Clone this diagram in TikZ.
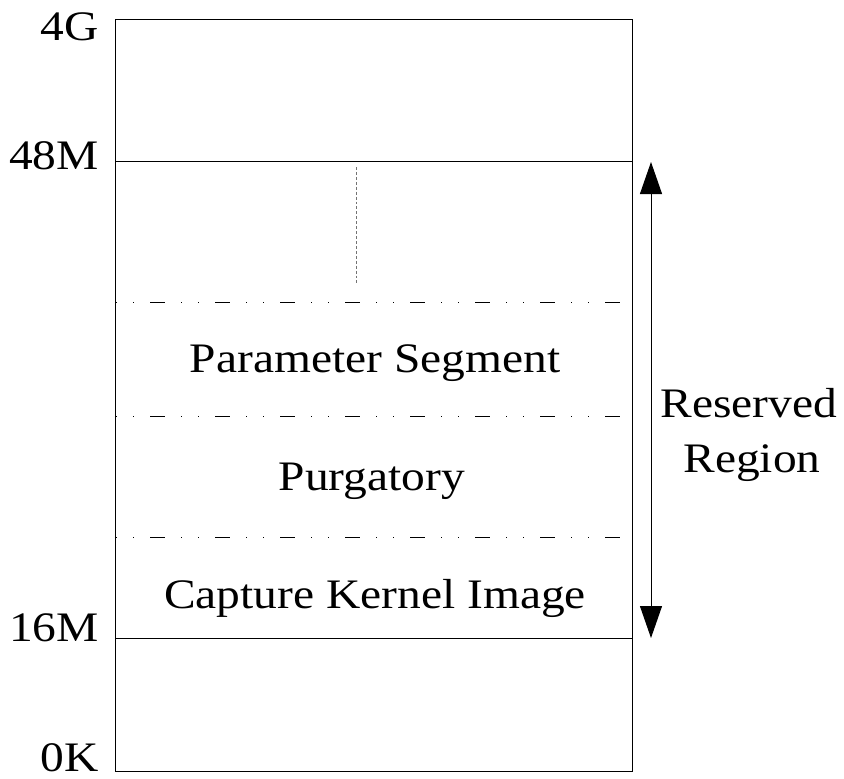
\documentclass[tikz,border=0pt]{standalone}
\usepackage{fontspec}
\setmainfont{Liberation Serif}
\usetikzlibrary{arrows.meta}
\newcommand{\widetext}[1]{\scalebox{1.13}[1]{#1}}
\begin{document}
\begin{tikzpicture}[x=0.75pt,y=-0.75pt,
  frame/.style={draw=black,line width=0.75pt},
  sepline/.style={draw=black,line width=0.75pt,
    dash pattern=on 0.75pt off 12pt on 0.75pt off 12pt on 11.25pt off 12pt},
  gapline/.style={draw=black!55,line width=0.75pt,dash pattern=on 2.2pt off 1.5pt},
  span/.style={draw=black,line width=0.75pt,
    {Triangle[length=24pt,width=16.5pt]}-{Triangle[length=24pt,width=16.5pt]}},
  lbl/.style={inner sep=0pt,font=\fontsize{31.5pt}{38pt}\selectfont}]
\useasboundingbox (0,0) rectangle (844,779);

% memory map outline
\coordinate (tl) at (115,19);
\coordinate (br) at (632,771);
\draw[frame] (tl) rectangle (br);

% address boundaries
\coordinate (m48l) at (115,161);
\coordinate (m48r) at (632,161);
\coordinate (m16l) at (115,638);
\coordinate (m16r) at (632,638);
\draw[frame] (m48l) -- (m48r);
\draw[frame] (m16l) -- (m16r);

% segment separators inside the reserved region
\coordinate (s1l) at (116,302); \coordinate (s1r) at (622,302);
\coordinate (s2l) at (116,416); \coordinate (s2r) at (622,416);
\coordinate (s3l) at (116,537); \coordinate (s3r) at (622,537);
\draw[sepline] (s1l) -- (s1r);
\draw[sepline] (s2l) -- (s2r);
\draw[sepline] (s3l) -- (s3r);

% unused space above the parameter segment
\coordinate (g1) at (356,167);
\coordinate (g2) at (356,284);
\draw[gapline] (g1) -- (g2);

% address labels
\node[lbl,anchor=base east] (a4g)  at (99,40)  {\widetext{4G}};
\node[lbl,anchor=base east] (a48m) at (99,169) {\widetext{48M}};
\node[lbl,anchor=base east] (a16m) at (99,641) {\widetext{16M}};
\node[lbl,anchor=base east,text depth=0pt] (a0k) at (99,771) {\widetext{0K}};

% segment labels
\node[lbl,anchor=base] (param) at (375,372) {\widetext{Parameter Segment}};
\node[lbl,anchor=base] (purg)  at (372,490) {\widetext{Purgatory}};
\node[lbl,anchor=base] (ckimg) at (375,608) {\widetext{Capture Kernel Image}};

% reserved region extent
\coordinate (rtop) at (651,162);
\coordinate (rbot) at (651,638);
\draw[span] (rtop) -- (rbot);
\node[lbl,anchor=base] (res) at (749,417) {\widetext{Reserved}};
\node[lbl,anchor=base] (reg) at (752,472) {\widetext{Region}};
\end{tikzpicture}
\end{document}
